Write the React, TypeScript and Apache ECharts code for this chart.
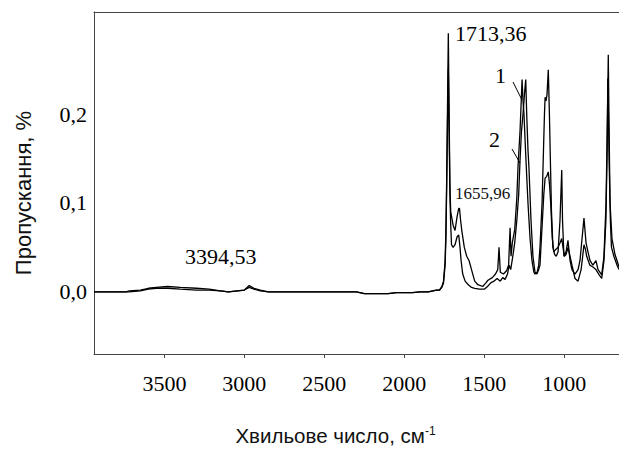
import React, { useEffect, useRef } from "react";
import * as echarts from "echarts";

// Wavenumber (cm-1) and transmission (%) pairs
const spectrum1: [number, number][] = [
  [3940, 0.0], [3740, 0.0], [3720, 0.001], [3650, 0.002], [3600, 0.004], [3550, 0.005],
  [3480, 0.006], [3400, 0.005], [3300, 0.004], [3220, 0.003], [3150, 0.001], [3100, 0.0],
  [3000, 0.002], [2970, 0.007], [2940, 0.004], [2900, 0.002], [2850, 0.0], [2300, 0.0],
  [2250, -0.002], [2100, -0.002], [2050, -0.001], [1950, -0.001], [1900, 0.0], [1850, 0.0],
  [1800, 0.002], [1780, 0.002], [1765, 0.006], [1755, 0.012], [1745, 0.035], [1740, 0.07],
  [1735, 0.13], [1730, 0.21], [1725, 0.291], [1720, 0.2], [1715, 0.12], [1710, 0.09],
  [1705, 0.085], [1695, 0.075], [1683, 0.069], [1670, 0.085], [1660, 0.094], [1655, 0.094],
  [1648, 0.08], [1640, 0.068], [1625, 0.05], [1610, 0.04], [1595, 0.035], [1580, 0.025],
  [1560, 0.012], [1540, 0.008], [1510, 0.006], [1490, 0.01], [1477, 0.013], [1450, 0.016],
  [1430, 0.02], [1416, 0.025], [1408, 0.05], [1400, 0.022], [1380, 0.02], [1360, 0.024],
  [1348, 0.03], [1339, 0.072], [1333, 0.04], [1325, 0.055], [1310, 0.07], [1297, 0.105],
  [1289, 0.142], [1277, 0.18], [1268, 0.22], [1264, 0.239], [1258, 0.215], [1252, 0.2],
  [1240, 0.15], [1227, 0.1], [1214, 0.06], [1202, 0.035], [1190, 0.022], [1183, 0.02],
  [1170, 0.022], [1160, 0.03], [1152, 0.05], [1139, 0.1], [1130, 0.16], [1124, 0.2],
  [1120, 0.219], [1114, 0.215], [1108, 0.222], [1100, 0.25], [1093, 0.2], [1086, 0.14],
  [1080, 0.09], [1071, 0.05], [1060, 0.042], [1050, 0.04], [1039, 0.045], [1027, 0.08],
  [1016, 0.137], [1011, 0.08], [1002, 0.04], [989, 0.045], [977, 0.058], [964, 0.035],
  [952, 0.025], [933, 0.02], [914, 0.025], [902, 0.035], [889, 0.06], [877, 0.083],
  [864, 0.055], [852, 0.045], [839, 0.035], [821, 0.03], [802, 0.035], [789, 0.025],
  [766, 0.019], [752, 0.04], [739, 0.1], [730, 0.2], [725, 0.267], [721, 0.2],
  [714, 0.1], [702, 0.06], [683, 0.042], [670, 0.035], [658, 0.028]
];

const spectrum2: [number, number][] = [
  [3940, 0.0], [3740, 0.0], [3720, 0.0], [3650, 0.001], [3600, 0.003], [3550, 0.004],
  [3480, 0.004], [3400, 0.003], [3300, 0.002], [3220, 0.002], [3150, 0.001], [3100, 0.0],
  [3000, 0.002], [2970, 0.005], [2940, 0.003], [2900, 0.001], [2850, 0.0], [2300, 0.0],
  [2250, -0.002], [2100, -0.002], [2050, -0.001], [1950, -0.001], [1900, 0.0], [1850, 0.0],
  [1800, 0.002], [1780, 0.002], [1765, 0.005], [1755, 0.01], [1745, 0.03], [1740, 0.06],
  [1735, 0.12], [1730, 0.19], [1725, 0.252], [1720, 0.18], [1715, 0.11], [1710, 0.075],
  [1705, 0.053], [1695, 0.05], [1683, 0.053], [1670, 0.062], [1660, 0.064], [1652, 0.05],
  [1645, 0.035], [1635, 0.02], [1620, 0.012], [1600, 0.008], [1580, 0.005], [1560, 0.004],
  [1530, 0.003], [1500, 0.003], [1480, 0.006], [1460, 0.01], [1440, 0.012], [1420, 0.015],
  [1400, 0.012], [1385, 0.016], [1370, 0.014], [1355, 0.02], [1345, 0.03], [1335, 0.025],
  [1322, 0.04], [1310, 0.055], [1297, 0.08], [1285, 0.11], [1277, 0.147], [1268, 0.18],
  [1258, 0.2], [1248, 0.225], [1241, 0.239], [1235, 0.2], [1227, 0.16], [1221, 0.14],
  [1208, 0.08], [1196, 0.04], [1183, 0.022], [1171, 0.02], [1160, 0.025], [1152, 0.03],
  [1140, 0.07], [1128, 0.11], [1120, 0.128], [1110, 0.13], [1100, 0.135], [1092, 0.12],
  [1085, 0.1], [1075, 0.06], [1066, 0.045], [1052, 0.048], [1040, 0.05], [1027, 0.055],
  [1016, 0.06], [1008, 0.05], [1000, 0.04], [989, 0.042], [977, 0.05], [964, 0.04],
  [952, 0.03], [933, 0.015], [914, 0.012], [895, 0.025], [885, 0.04], [877, 0.053],
  [868, 0.048], [860, 0.04], [840, 0.03], [821, 0.028], [802, 0.025], [785, 0.02],
  [766, 0.015], [752, 0.035], [740, 0.08], [732, 0.16], [728, 0.24], [724, 0.2],
  [720, 0.15], [712, 0.08], [705, 0.05], [690, 0.04], [670, 0.03], [658, 0.025]
];

const xTickValues = [3500, 3000, 2500, 2000, 1500, 1000];
const yTickValues = [0, 0.1, 0.2];

const peakLabels = ["1713,36", "1655,96", "3394,53"];
const curveLabels = ["1", "2"];

const SERIF = "'Liberation Serif', 'Times New Roman', serif";
const SANS = "'Liberation Sans', Arial, sans-serif";

export default function App() {
  const ref = useRef<HTMLDivElement>(null);
  useEffect(() => {
    if (!ref.current) return;
    const chart = echarts.init(ref.current, undefined, { renderer: "svg" });
    const axisLineStyle = { color: "#444", width: 1 };
    chart.setOption({
      animation: false,
      backgroundColor: "#fff",
      grid: { left: 94, top: 12, right: 0, bottom: 93, containLabel: false },
      xAxis: [
        {
          type: "value",
          inverse: true,
          min: 658,
          max: 3940,
          position: "bottom",
          axisLine: { show: true, onZero: false, lineStyle: axisLineStyle },
          axisTick: { show: true, length: 4, customValues: xTickValues, lineStyle: axisLineStyle },
          axisLabel: {
            customValues: xTickValues,
            fontFamily: SERIF,
            fontSize: 22,
            color: "#000",
            margin: 18,
            formatter: (v: number) => String(v),
          },
          splitLine: { show: false },
          name: "Хвильове число, см{sup|-1}",
          nameLocation: "middle",
          nameGap: 71,
          nameTextStyle: {
            fontFamily: SANS,
            fontSize: 20.5,
            color: "#111",
            padding: [0, 42, 0, 0],
            rich: {
              sup: { fontFamily: SANS, fontSize: 12, color: "#111", verticalAlign: "top", padding: [0, 0, 9, 0] },
            },
          },
        },
        {
          type: "value",
          inverse: true,
          min: 658,
          max: 3940,
          position: "top",
          axisLine: { show: true, onZero: false, lineStyle: axisLineStyle },
          axisTick: { show: false },
          axisLabel: { show: false },
          splitLine: { show: false },
        },
      ],
      yAxis: {
        type: "value",
        min: -0.07,
        max: 0.315,
        axisLine: { show: true, onZero: false, lineStyle: axisLineStyle },
        axisTick: { show: false },
        axisLabel: {
          customValues: yTickValues,
          fontFamily: SERIF,
          fontSize: 22,
          color: "#000",
          margin: 7,
          formatter: (v: number) => v.toFixed(1).replace(".", ","),
        },
        splitLine: { show: false },
        name: "Пропускання, %",
        nameLocation: "middle",
        nameGap: 60,
        nameRotate: 90,
        nameTextStyle: { fontFamily: SANS, fontSize: 22, color: "#111", padding: [0, 20, 0, 0] },
      },
      series: [
        {
          type: "line",
          data: spectrum1,
          showSymbol: false,
          lineStyle: { color: "#000", width: 1.3 },
          z: 3,
        },
        {
          type: "line",
          data: spectrum2,
          showSymbol: false,
          lineStyle: { color: "#000", width: 1.3 },
          z: 3,
        },
      ],
      graphic: [
        { type: "text", left: 455, top: 22, style: { text: peakLabels[0], font: `22px ${SERIF}`, fill: "#000" } },
        { type: "text", left: 455, top: 185, style: { text: peakLabels[1], font: `17px ${SERIF}`, fill: "#111" } },
        { type: "text", left: 185, top: 245, style: { text: peakLabels[2], font: `22px ${SERIF}`, fill: "#000" } },
        { type: "text", left: 495, top: 64, style: { text: curveLabels[0], font: `22px ${SERIF}`, fill: "#000" } },
        { type: "text", left: 489, top: 128, style: { text: curveLabels[1], font: `22px ${SERIF}`, fill: "#000" } },
        { type: "line", shape: { x1: 513, y1: 82, x2: 522, y2: 100 }, style: { stroke: "#000", lineWidth: 1 } },
        { type: "line", shape: { x1: 512, y1: 149, x2: 520, y2: 163 }, style: { stroke: "#000", lineWidth: 1 } },
      ],
    });
    return () => chart.dispose();
  }, []);
  return (
    <div
      ref={ref}
      style={{ position: "absolute", left: 0, top: 0, width: 619, height: 451, background: "#fff" }}
    />
  );
}
